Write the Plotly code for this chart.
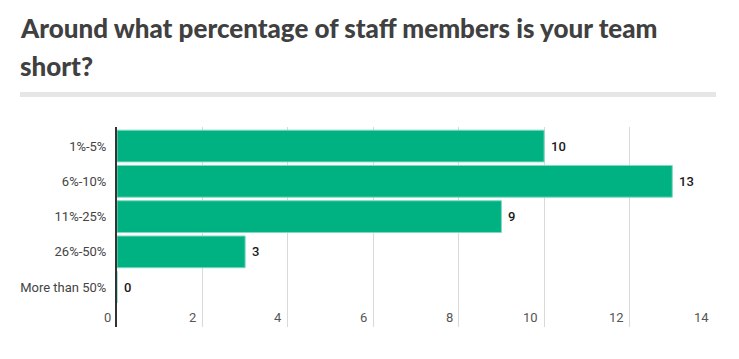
import plotly.graph_objects as go

categories = ["1%-5%", "6%-10%", "11%-25%", "26%-50%", "More than 50%"]
values = [10, 13, 9, 3, 0]
x_ticks = [0, 2, 4, 6, 8, 10, 12, 14]

title_line1 = "Around what percentage of staff members is your team"
title_line2 = "short?"

# page body has an 8px margin; figure is sized to fit inside the 739x359 window
OFF = 8
W, H = 739 - 2 * OFF, 359 - 2 * OFF
# target plot area in window pixels: x 117..715, y 127..327
L = 117 - OFF
T = 127 - OFF
R = W - (715 - OFF)
B = H - (327 - OFF)
PW, PH = W - L - R, H - T - B


def px(x):
    return (x - OFF - L) / PW


def py(y):
    return (H - B - (y - OFF)) / PH


fig = go.Figure()
fig.add_trace(go.Bar(
    x=values, y=categories, orientation="h",
    marker=dict(color="#00b282", line=dict(color="#7fd9c0", width=1)),
    hoverinfo="skip",
))

for c, v in zip(categories, values):
    fig.add_annotation(x=v, y=c, xref="x", yref="y", text=str(v), showarrow=False,
                       xanchor="left", xshift=5,
                       font=dict(family="Roboto", size=13, color="#1a1a1a", weight=500))

for t in x_ticks:
    fig.add_annotation(x=t, y=0, xref="x", yref="paper", text=str(t), showarrow=False,
                       xanchor="right", yanchor="bottom", xshift=-4, yshift=0,
                       font=dict(family="Roboto", size=13, color="#555555"))

fig.add_annotation(x=px(18), y=py(28), xref="paper", yref="paper", text=title_line1,
                   showarrow=False, xanchor="left", yanchor="middle",
                   font=dict(family="Lato", size=26, color="#404040", weight=900))
fig.add_annotation(x=px(18), y=py(66), xref="paper", yref="paper", text=title_line2,
                   showarrow=False, xanchor="left", yanchor="middle",
                   font=dict(family="Lato", size=26, color="#404040", weight=900))

fig.update_layout(
    width=W, height=H,
    margin=dict(l=L, r=R, t=T, b=B, pad=0, autoexpand=False),
    paper_bgcolor="white", plot_bgcolor="white",
    bargap=0.1, showlegend=False,
    xaxis=dict(range=[0, 14], tickvals=x_ticks, showticklabels=False, automargin=False,
               showgrid=True, gridcolor="#d9d9d9", gridwidth=1, zeroline=False,
               showline=False, ticks=""),
    yaxis=dict(range=[5.13, -0.54], type="category", categoryorder="array", categoryarray=categories,
               showgrid=False, zeroline=False, showline=True, linecolor="#333333", linewidth=2,
               ticks="", ticklabelstandoff=6, automargin=False,
               tickfont=dict(family="Roboto", size=13, color="#444444")),
    shapes=[dict(type="rect", xref="paper", yref="paper",
                 x0=px(20), x1=px(716), y0=py(92), y1=py(97),
                 fillcolor="#e6e6e6", line=dict(width=0), layer="above")],
)

fig.write_html("out.html")
